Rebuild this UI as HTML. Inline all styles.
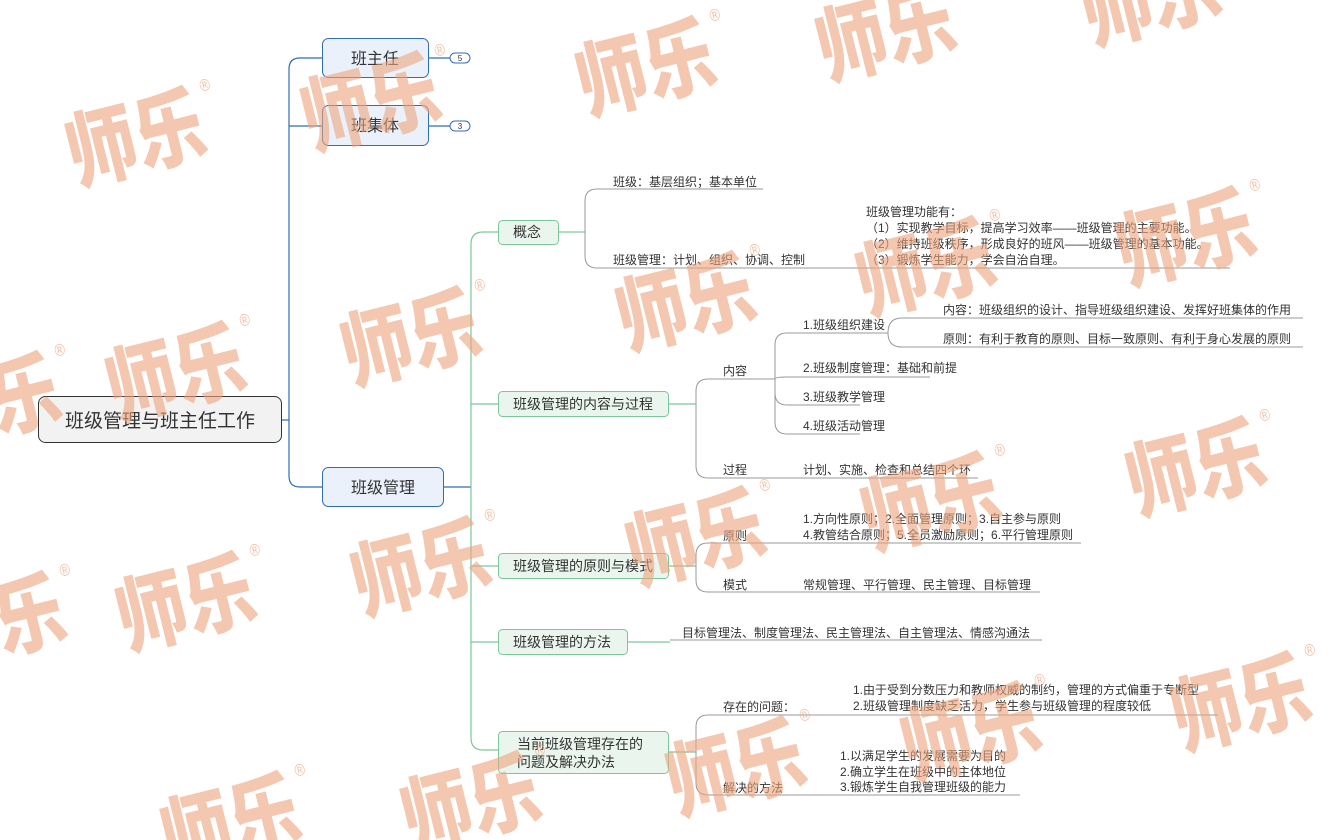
<!DOCTYPE html>
<html><head><meta charset="utf-8"><style>
html,body{margin:0;padding:0;background:#fff;width:1342px;height:840px;overflow:hidden}
#wrap{position:relative;width:1342px;height:840px;overflow:hidden}
svg{display:block}
text{font-family:"Liberation Sans","Noto Sans CJK SC",sans-serif;fill:#333}
.t{font-size:12px}
.g{stroke:#999;fill:none;stroke-width:1}
.wm{font-family:"Noto Sans CJK SC","WenQuanYi Zen Hei",sans-serif;font-weight:900;font-size:70px;fill:#eea57c;opacity:0.6}
.r{font-size:14px;fill:#eea57c;opacity:0.7}
</style></head><body><div id="wrap">
<svg width="1342" height="840" viewBox="0 0 1342 840" overflow="hidden">
<defs><clipPath id="c"><rect x="0" y="0" width="1342" height="840"/></clipPath></defs>
<g fill="none" stroke="#2f6db5" stroke-width="1.2">
<path d="M282 420 H289"/>
<path d="M322 58 H300 Q289 58 289 69 V476 Q289 487 300 487 H322"/>
<path d="M289 126 Q289 126 300 126 H322"/>
<path d="M429 58 H450 M429 126 H450 M444 487 H471"/>
</g>
<rect x="450" y="53" width="20" height="10" rx="5" fill="#fff" stroke="#2f6db5"/>
<text x="460" y="61" font-size="8" text-anchor="middle">5</text>
<rect x="450" y="121" width="20" height="10" rx="5" fill="#fff" stroke="#2f6db5"/>
<text x="460" y="129" font-size="8" text-anchor="middle">3</text>
<rect x="38.5" y="396.5" width="243" height="46" rx="7" fill="#f2f2f2" stroke="#333"/>
<text x="160" y="427" font-size="19" text-anchor="middle">班级管理与班主任工作</text>
<rect x="322.5" y="38.5" width="106" height="39" rx="6" fill="#eaf1fb" stroke="#2f6db5"/>
<text x="375" y="64" font-size="16" text-anchor="middle">班主任</text>
<rect x="322.5" y="105.5" width="106" height="40" rx="6" fill="#eaf1fb" stroke="#2f6db5"/>
<text x="375" y="131" font-size="16" text-anchor="middle">班集体</text>
<rect x="322.5" y="467.5" width="121" height="39" rx="6" fill="#eaf1fb" stroke="#2f6db5"/>
<text x="383" y="493" font-size="16" text-anchor="middle">班级管理</text>
<g fill="none" stroke="#7cc79a" stroke-width="1.2">
<path d="M498 232 H483 Q471 232 471 244 V738 Q471 750 483 750 H498"/>
<path d="M471 404 H498 M471 566 H498 M471 642 H498"/>
<path d="M559 232 H585 M669 404 H696 M669 566 H696 M628 642 H670 M669 752 H696"/>
</g>
<g fill="#eaf5ee" stroke="#7cc79a">
<rect x="498.5" y="220.5" width="60" height="24" rx="4"/>
<rect x="498.5" y="391.5" width="170" height="25" rx="4"/>
<rect x="498.5" y="553.5" width="170" height="25" rx="4"/>
<rect x="498.5" y="629.5" width="129" height="25" rx="4"/>
<rect x="498.5" y="731.5" width="170" height="42" rx="4"/>
</g>
<g font-size="14">
<text x="513" y="237">概念</text>
<text x="513" y="409">班级管理的内容与过程</text>
<text x="513" y="571">班级管理的原则与模式</text>
<text x="513" y="647">班级管理的方法</text>
<text x="517" y="749">当前班级管理存在的</text>
<text x="517" y="767">问题及解决办法</text>
</g>
<g class="g">
<path d="M585 232 V201 Q585 189 597 189 H763"/>
<path d="M585 232 V256 Q585 268 597 268 H1230"/>
<path d="M696 404 V391 Q696 379 708 379 H775"/>
<path d="M696 404 V466 Q696 478 708 478 H978"/>
<path d="M775 379 V345 Q775 333 787 333 H888"/>
<path d="M775 379 Q775 377 787 377 H930"/>
<path d="M775 379 V393 Q775 405 787 405 H860"/>
<path d="M775 379 V422 Q775 434 787 434 H860"/>
<path d="M888 333 Q888 318 902 318 H1303"/>
<path d="M888 333 Q888 347 902 347 H1303"/>
<path d="M696 566 V555 Q696 543 708 543 H1081"/>
<path d="M696 566 V580 Q696 592 708 592 H1040"/>
<path d="M670 640 H1042"/>
<path d="M696 752 V727 Q696 715 708 715 H1218"/>
<path d="M696 752 V783 Q696 795 708 795 H1020"/>
</g>
<g class="t">
<text x="613" y="186">班级：基层组织；基本单位</text>
<text x="613" y="264">班级管理：计划、组织、协调、控制</text>
<text x="866" y="216">班级管理功能有：</text>
<text x="866" y="232">（1）实现教学目标，提高学习效率——班级管理的主要功能。</text>
<text x="866" y="248">（2）维持班级秩序，形成良好的班风——班级管理的基本功能。</text>
<text x="866" y="264">（3）锻炼学生能力，学会自治自理。</text>
<text x="723" y="375">内容</text>
<text x="803" y="329">1.班级组织建设</text>
<text x="943" y="314">内容：班级组织的设计、指导班级组织建设、发挥好班集体的作用</text>
<text x="943" y="343">原则：有利于教育的原则、目标一致原则、有利于身心发展的原则</text>
<text x="803" y="372">2.班级制度管理：基础和前提</text>
<text x="803" y="401">3.班级教学管理</text>
<text x="803" y="430">4.班级活动管理</text>
<text x="723" y="474">过程</text>
<text x="803" y="474">计划、实施、检查和总结四个环</text>
<text x="723" y="540">原则</text>
<text x="803" y="523">1.方向性原则；2.全面管理原则；3.自主参与原则</text>
<text x="803" y="539">4.教管结合原则；5.全员激励原则；6.平行管理原则</text>
<text x="723" y="589">模式</text>
<text x="803" y="589">常规管理、平行管理、民主管理、目标管理</text>
<text x="682" y="637">目标管理法、制度管理法、民主管理法、自主管理法、情感沟通法</text>
<text x="723" y="711">存在的问题：</text>
<text x="853" y="694">1.由于受到分数压力和教师权威的制约，管理的方式偏重于专断型</text>
<text x="853" y="710">2.班级管理制度缺乏活力，学生参与班级管理的程度较低</text>
<text x="723" y="792">解决的方法</text>
<text x="840" y="760">1.以满足学生的发展需要为目的</text>
<text x="840" y="776">2.确立学生在班级中的主体地位</text>
<text x="840" y="791">3.锻炼学生自我管理班级的能力</text>
</g>
<g clip-path="url(#c)">
<g transform="translate(75,185) rotate(-14) scale(1,1.2)"><text class="wm">师乐</text><text class="r" x="145" y="-50">®</text></g>
<g transform="translate(310,150) rotate(-14) scale(1,1.2)"><text class="wm">师乐</text><text class="r" x="145" y="-50">®</text></g>
<g transform="translate(585,115) rotate(-14) scale(1,1.2)"><text class="wm">师乐</text><text class="r" x="145" y="-50">®</text></g>
<g transform="translate(825,80) rotate(-14) scale(1,1.2)"><text class="wm">师乐</text><text class="r" x="145" y="-50">®</text></g>
<g transform="translate(1090,45) rotate(-14) scale(1,1.2)"><text class="wm">师乐</text><text class="r" x="145" y="-50">®</text></g>
<g transform="translate(115,420) rotate(-14) scale(1,1.2)"><text class="wm">师乐</text><text class="r" x="145" y="-50">®</text></g>
<g transform="translate(350,385) rotate(-14) scale(1,1.2)"><text class="wm">师乐</text><text class="r" x="145" y="-50">®</text></g>
<g transform="translate(625,350) rotate(-14) scale(1,1.2)"><text class="wm">师乐</text><text class="r" x="145" y="-50">®</text></g>
<g transform="translate(865,315) rotate(-14) scale(1,1.2)"><text class="wm">师乐</text><text class="r" x="145" y="-50">®</text></g>
<g transform="translate(1125,285) rotate(-14) scale(1,1.2)"><text class="wm">师乐</text><text class="r" x="145" y="-50">®</text></g>
<g transform="translate(-70,450) rotate(-14) scale(1,1.2)"><text class="wm">师乐</text><text class="r" x="145" y="-50">®</text></g>
<g transform="translate(125,650) rotate(-14) scale(1,1.2)"><text class="wm">师乐</text><text class="r" x="145" y="-50">®</text></g>
<g transform="translate(360,615) rotate(-14) scale(1,1.2)"><text class="wm">师乐</text><text class="r" x="145" y="-50">®</text></g>
<g transform="translate(635,585) rotate(-14) scale(1,1.2)"><text class="wm">师乐</text><text class="r" x="145" y="-50">®</text></g>
<g transform="translate(870,550) rotate(-14) scale(1,1.2)"><text class="wm">师乐</text><text class="r" x="145" y="-50">®</text></g>
<g transform="translate(1135,515) rotate(-14) scale(1,1.2)"><text class="wm">师乐</text><text class="r" x="145" y="-50">®</text></g>
<g transform="translate(-65,670) rotate(-14) scale(1,1.2)"><text class="wm">师乐</text><text class="r" x="145" y="-50">®</text></g>
<g transform="translate(170,870) rotate(-14) scale(1,1.2)"><text class="wm">师乐</text><text class="r" x="145" y="-50">®</text></g>
<g transform="translate(410,850) rotate(-14) scale(1,1.2)"><text class="wm">师乐</text><text class="r" x="145" y="-50">®</text></g>
<g transform="translate(675,815) rotate(-14) scale(1,1.2)"><text class="wm">师乐</text><text class="r" x="145" y="-50">®</text></g>
<g transform="translate(910,780) rotate(-14) scale(1,1.2)"><text class="wm">师乐</text><text class="r" x="145" y="-50">®</text></g>
<g transform="translate(1180,750) rotate(-14) scale(1,1.2)"><text class="wm">师乐</text><text class="r" x="145" y="-50">®</text></g>
</g>
</svg>
</div></body></html>
